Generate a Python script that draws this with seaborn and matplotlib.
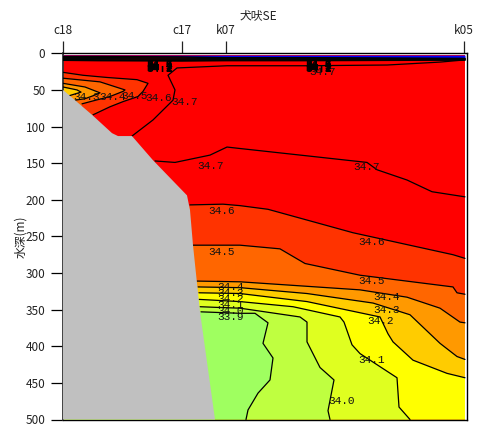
import matplotlib
matplotlib.use("Agg")
import matplotlib.pyplot as plt
import pandas as pd
import seaborn as sns

# Section along 犬吠SE: x is distance along the section, y is depth in metres.
station_names = ["c18", "c17", "k07", "k05"]
station_x = [0, 119, 163, 401]
depth_ticks = [0, 50, 100, 150, 200, 250, 300, 350, 400, 450, 500]

# Depth of each salinity isoline (x list, depth list)
iso_346_x = [127, 160, 177, 205, 290, 390, 402]
iso_346_d = [207, 206, 208, 213, 245, 275, 280]
iso_345_x = [130, 177, 217, 242, 297, 390, 394, 402]
iso_345_d = [262, 262, 267, 287, 303, 319, 327, 329]
iso_344_x = [134, 177, 297, 344, 377, 397, 402]
iso_344_d = [311, 312, 323, 333, 348, 367, 368]
iso_343_x = [135, 177, 244, 310, 347, 377, 394, 402]
iso_343_d = [319, 320, 328, 341, 357, 396, 414, 418]
iso_342_x = [136, 177, 244, 317, 325, 330, 350, 384, 402]
iso_342_d = [327, 328, 339, 360, 383, 394, 419, 437, 443]
iso_341_x = [136, 177, 230, 277, 281, 289, 297, 334, 336, 347]
iso_341_d = [336, 339, 346, 360, 367, 398, 410, 443, 483, 500]
iso_340_x = [137, 155, 177, 237, 244, 244, 257, 271, 267, 265, 267]
iso_340_d = [346, 347, 348, 360, 367, 394, 429, 446, 474, 488, 500]
iso_339_x = [138, 177, 192, 205, 200, 210, 207, 195, 185, 183]
iso_339_d = [353, 355, 355, 368, 396, 416, 446, 464, 487, 500]

# Low-salinity tongue on the shelf at the left
tongue_346_x = [0, 20, 44, 74, 85, 80, 75, 60, 47, 30]
tongue_346_d = [26, 30, 33, 36, 41, 52, 59, 66, 73, 84]
tongue_345_x = [0, 37, 62, 60, 47, 30, 19]
tongue_345_d = [34, 39, 50, 52, 59, 65, 69]
tongue_344_x = [0, 22, 37, 30, 22, 12]
tongue_344_d = [41, 46, 54, 58, 62, 64]
tongue_343_x = [0, 14, 18, 6]
tongue_343_d = [46, 50, 53, 58]

# The two 34.7 isolines (only lines: the water on both sides is red)
iso_347a_x = [69, 90, 110, 112, 105, 114, 164, 244, 324, 377, 402]
iso_347a_d = [113, 91, 64, 50, 30, 20, 17, 17, 16, 12, 9]
iso_347b_x = [92, 112, 147, 164, 177, 244, 304, 314, 344, 369, 402]
iso_347b_d = [147, 149, 139, 128, 130, 140, 149, 159, 173, 189, 196]

# Thin fresh surface layer
surface_x = [0, 35, 119, 163, 240, 402]
surface_top = [2.5, 2.5, 2.5, 2.5, 2.5, 2.5]
surface_blue = [4.0, 4.0, 4.5, 5.5, 5.5, 6.5]
surface_layers = [
    [4.5, 4.5, 5.0, 6.0, 6.0, 7.0],
    [6.0, 6.0, 6.5, 7.0, 7.0, 7.6],
    [7.5, 7.5, 8.0, 8.0, 8.0, 8.2],
    [8.5, 9.0, 9.5, 9.0, 9.0, 8.8],
    [9.5, 10.0, 10.5, 10.0, 10.0, 9.2],
]

# Sea floor
floor_x = [0, 29, 49, 55, 69, 90, 124, 127, 130, 137, 152, 0]
floor_d = [50, 84, 109, 113, 113, 146, 194, 214, 262, 353, 500, 500]

# Contour labels
label_text = ["34.7", "34.3", "34.4", "34.5", "34.6", "34.7", "34.7", "34.6", "34.5",
              "34.7", "34.6", "34.5", "34.4", "34.3", "34.2", "34.1", "34.0",
              "34.4", "34.3", "34.2", "34.1", "34.0", "33.9"]
label_x = [260, 24, 50, 72, 96, 122, 148, 159, 159,
           304, 309, 309, 324, 324, 318, 309, 279,
           168, 168, 168, 168, 168, 168]
label_d = [25.5, 59, 59, 58, 61, 67, 153.5, 215, 271,
           155, 257, 311, 333, 351, 365, 419, 474.6,
           319, 327, 336, 344, 352, 360]
stack_text = ["34.6", "34.5", "34.4", "34.3", "34.2", "34.1"]
stack_x = [97, 256]
stack_d = [15, 16.2, 17.4, 18.6, 19.8, 21]

sns.set_style("ticks")
plt.rcParams["font.family"] = ["Noto Sans CJK JP", "DejaVu Sans"]

fig = plt.figure(figsize=(4.81, 4.25), dpi=100)
ax = fig.add_axes([63 / 481, 1 - 419.5 / 425, (467 - 63) / 481, (419.5 - 53.3) / 425])
ax.set_xlim(0, 404)
ax.set_ylim(500, 0)

ax.fill([0, 402, 402, 0], [2.5, 2.5, 500, 500], color="#FF0000", lw=0, zorder=1)

bands = [
    (iso_346_x, iso_346_d, "#FF3300", [(402, 500), (0, 500)]),
    (iso_345_x, iso_345_d, "#FF6600", [(402, 500), (0, 500)]),
    (iso_344_x, iso_344_d, "#FF9900", [(402, 500), (0, 500)]),
    (iso_343_x, iso_343_d, "#FFCC00", [(402, 500), (0, 500)]),
    (iso_342_x, iso_342_d, "#FFFF00", [(402, 500), (0, 500)]),
    (iso_341_x, iso_341_d, "#DFFF20", [(0, 500)]),
    (iso_340_x, iso_340_d, "#BFFF40", [(0, 500)]),
    (iso_339_x, iso_339_d, "#9FFF60", [(0, 500)]),
    (tongue_346_x, tongue_346_d, "#FF3300", [(0, 500)]),
    (tongue_345_x, tongue_345_d, "#FF6600", [(0, 500)]),
    (tongue_344_x, tongue_344_d, "#FF9900", [(0, 500)]),
    (tongue_343_x, tongue_343_d, "#FFCC00", [(0, 500)]),
]
for xs, ds, colour, closure in bands:
    ax.fill(list(xs) + [p[0] for p in closure], list(ds) + [p[1] for p in closure],
            color=colour, lw=0, zorder=2)

ax.fill_between(surface_x, surface_top, surface_blue, color="#0000FF", lw=0, zorder=3)


def draw_line(xs, ds, lw=0.9):
    frame = pd.DataFrame({"x": xs, "depth": ds})
    sns.lineplot(data=frame, x="x", y="depth", sort=False, estimator=None,
                 color="black", lw=lw, ax=ax, zorder=4)


for xs, ds, _, _ in bands:
    draw_line(xs, ds)
draw_line(iso_347a_x, iso_347a_d)
draw_line(iso_347b_x, iso_347b_d)
for layer in surface_layers:
    draw_line(surface_x, layer, lw=1.1)

ax.fill(floor_x, floor_d, color="#C0C0C0", lw=0, zorder=5)

for text, x, d in zip(label_text, label_x, label_d):
    ax.text(x, d, text, family="Liberation Mono", fontsize=8, ha="center", va="center",
            color="#111111", zorder=6)
for x in stack_x:
    for text, d in zip(stack_text, stack_d):
        ax.text(x, d, text, family="Liberation Mono", fontsize=8, ha="center", va="center",
                color="black", fontweight="bold", zorder=6)

ax.set_xlabel("")
ax.set_ylabel("")
ax.set_yticks(depth_ticks)
ax.set_yticklabels([str(v) for v in depth_ticks], fontsize=8.5, color="#222222")
ax.tick_params(axis="y", length=8.6, width=0.9, pad=4, color="black")
ax.xaxis.tick_top()
ax.set_xticks(station_x)
ax.set_xticklabels(station_names, fontsize=8.5, color="#222222")
ax.tick_params(axis="x", length=8.6, width=0.9, pad=3, color="#222222")

for side in ["top", "bottom", "left", "right"]:
    ax.spines[side].set_visible(True)
    ax.spines[side].set_color("black")
    ax.spines[side].set_linewidth(1.0)
ax.spines["left"].set_color("#333333")
ax.spines["left"].set_linewidth(1.3)

fig.text(258 / 481, 1 - 16 / 425, "犬吠SE", fontsize=8.5, ha="center", va="center", color="#222222")
fig.text(21 / 481, 1 - 237 / 425, "水深(m)", fontsize=8.5, rotation=90, ha="center", va="center",
         color="#222222")

fig.savefig("out.png", dpi=100)
